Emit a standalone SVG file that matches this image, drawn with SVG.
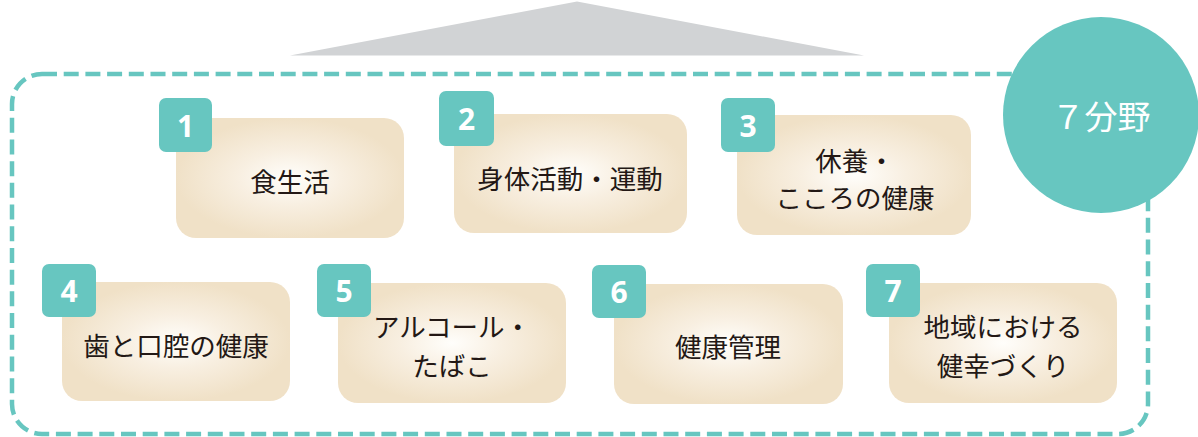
<svg xmlns="http://www.w3.org/2000/svg" width="1198" height="437" viewBox="0 0 1198 437">
<defs>
<radialGradient id="bg" cx="0.5" cy="0.5" r="0.5" gradientUnits="objectBoundingBox">
<stop offset="0" stop-color="#FFFEFB"/>
<stop offset="0.45" stop-color="#F8EFE1"/>
<stop offset="1" stop-color="#F0E1C7"/>
</radialGradient>
<style>
.box{fill:url(#bg);}
.badge{fill:#67C6C0;}
.num{fill:#fff;font-family:"Open Sans","Liberation Sans",sans-serif;font-weight:bold;font-size:30px;text-anchor:middle;dominant-baseline:central;}
.lbl{fill:#231815;font-family:"Noto Sans CJK JP","Noto Sans",sans-serif;font-size:26.5px;text-anchor:middle;dominant-baseline:central;}
.frame{fill:none;stroke:#67C6C0;stroke-width:4.5;stroke-dasharray:15 6.7;}
</style>
</defs>
<rect width="1198" height="437" fill="#fff"/>
<polygon points="290,55.5 577,1.5 864,55.5" fill="#D1D3D5"/>
<g id="connectors">
<rect class="frame" x="12" y="74" width="1136" height="360" rx="30" ry="30"/>
</g>
<g id="title">
<circle cx="1101" cy="115" r="98" fill="#67C6C0"/>
<text x="1101" y="115" fill="#fff" font-family="Noto Sans CJK JP, Noto Sans, sans-serif" font-size="33" text-anchor="middle" dominant-baseline="central">７分野</text>
</g>
<g id="n1">
<rect class="box" x="176" y="118" width="228" height="120" rx="20"/>
<rect class="badge" x="159" y="98" width="53" height="54" rx="7"/>
<text class="num" x="185.5" y="125">1</text>
<text class="lbl" x="290" y="180">食生活</text>
</g>
<g id="n2">
<rect class="box" x="454" y="114" width="233" height="119" rx="20"/>
<rect class="badge" x="439" y="91" width="55" height="55" rx="7"/>
<text class="num" x="466.5" y="118.5">2</text>
<text class="lbl" x="570" y="177">身体活動・運動</text>
</g>
<g id="n3">
<rect class="box" x="737" y="115" width="234" height="120" rx="20"/>
<rect class="badge" x="721" y="98" width="54" height="54" rx="7"/>
<text class="num" x="748" y="125">3</text>
<text class="lbl" x="855" y="159">休養・</text>
<text class="lbl" x="855" y="196">こころの健康</text>
</g>
<g id="n4">
<rect class="box" x="62" y="282" width="228" height="119" rx="20"/>
<rect class="badge" x="42" y="264" width="54" height="53" rx="7"/>
<text class="num" x="69" y="290.5">4</text>
<text class="lbl" x="176" y="344">歯と口腔の健康</text>
</g>
<g id="n5">
<rect class="box" x="338" y="283" width="228" height="120" rx="20"/>
<rect class="badge" x="317" y="264" width="54" height="53" rx="7"/>
<text class="num" x="344" y="290.5">5</text>
<text class="lbl" x="452" y="325">アルコール・</text>
<text class="lbl" x="452" y="364">たばこ</text>
</g>
<g id="n6">
<rect class="box" x="614" y="284" width="229" height="120" rx="20"/>
<rect class="badge" x="592" y="265" width="54" height="53" rx="7"/>
<text class="num" x="619" y="291.5">6</text>
<text class="lbl" x="728" y="345">健康管理</text>
</g>
<g id="n7">
<rect class="box" x="889" y="283" width="228" height="120" rx="20"/>
<rect class="badge" x="866" y="264" width="54" height="53" rx="7"/>
<text class="num" x="893" y="290.5">7</text>
<text class="lbl" x="1003" y="325">地域における</text>
<text class="lbl" x="1003" y="364">健幸づくり</text>
</g>
</svg>
